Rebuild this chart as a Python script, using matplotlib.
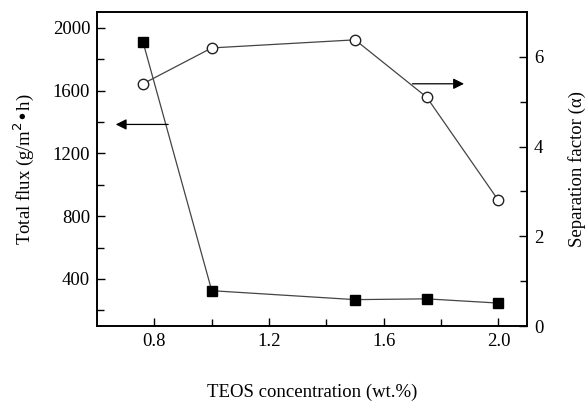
import matplotlib
matplotlib.use("Agg")
import matplotlib.pyplot as plt

# TEOS concentration (wt.%)
teos = [0.76, 1.0, 1.5, 1.75, 2.0]
# total flux, g/(m2 h)  -- filled squares, left axis
total_flux = [1910, 325, 268, 273, 246]
# separation factor (alpha) -- open circles, right axis
sep_factor = [5.4, 6.2, 6.38, 5.1, 2.8]

plt.rcParams["font.family"] = ["Liberation Serif", "DejaVu Serif"]
plt.rcParams["font.size"] = 13.5

fig = plt.figure(figsize=(5.85, 4.01), dpi=100)
ax = fig.add_axes([0.166, 0.187, 0.735, 0.783])
ax2 = ax.twinx()

line_col = "#444444"
ax.plot(teos, total_flux, "-", color=line_col, lw=0.9,
        marker="s", ms=7, mfc="black", mec="black", zorder=3)
ax2.plot(teos, sep_factor, "-", color=line_col, lw=0.9,
         marker="o", ms=7.5, mfc="white", mec="#222222", mew=1.0, zorder=3)

ax.set_xlim(0.6, 2.1)
ax.set_ylim(100, 2100)
ax2.set_ylim(0, 7)

ax.set_xticks([0.8, 1.2, 1.6, 2.0])
ax.set_xticks([1.0, 1.4, 1.8], minor=True)
ax.set_yticks([400, 800, 1200, 1600, 2000])
ax.set_yticks([200, 600, 1000, 1400, 1800], minor=True)
ax2.set_yticks([0, 2, 4, 6])
ax2.set_yticks([1, 3, 5], minor=True)
ax.xaxis.set_major_formatter(matplotlib.ticker.FormatStrFormatter("%.1f"))

for a in (ax, ax2):
    a.tick_params(which="both", direction="in", width=1.0)
    a.tick_params(which="major", length=6)
    a.tick_params(which="minor", length=5)
    for s in a.spines.values():
        s.set_linewidth(1.2)
ax.tick_params(axis="y", right=False)
ax.tick_params(axis="x", top=False)
ax.tick_params(axis="both", pad=5)
ax2.tick_params(axis="y", pad=5)

ax.set_xlabel("TEOS concentration (wt.%)", labelpad=24)
ax.set_ylabel("Total flux (g/m$^2$\u2022h)", labelpad=12)
ax2.set_ylabel("Separation factor (\u03b1)", labelpad=18)

# direction arrows pointing to each series' axis
ax.annotate("", xy=(0.665, 1384), xytext=(0.848, 1384),
            arrowprops=dict(arrowstyle="-|>", color="black", lw=0.9,
                            mutation_scale=16, shrinkA=0, shrinkB=0))
ax2.annotate("", xy=(1.88, 5.4), xytext=(1.70, 5.4),
             arrowprops=dict(arrowstyle="-|>", color="black", lw=0.9,
                             mutation_scale=16, shrinkA=0, shrinkB=0))

fig.savefig("out.png", dpi=100)
